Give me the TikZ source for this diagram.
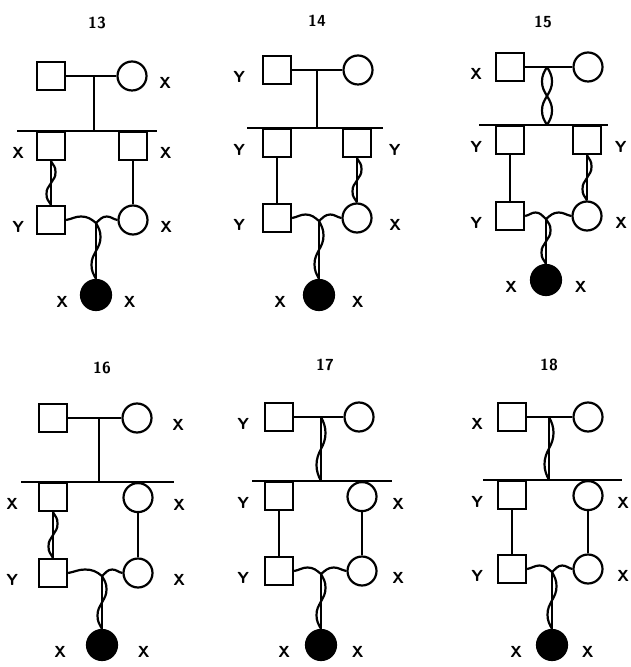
\documentclass[tikz,border=0pt]{standalone}
\usepackage{tikz}
\usetikzlibrary{positioning,calc}

\tikzset{
  male/.style={draw, rectangle, minimum size=14pt, inner sep=0pt},
  female/.style={draw, circle, minimum size=14.5pt, inner sep=0pt},
  affected/.style={draw, circle, fill=black, minimum size=15pt, inner sep=0pt},
  lbl/.style={font=\sffamily\bfseries\fontsize{8}{9}\selectfont, yshift=-3.5pt},
  tag/.style={font=\sffamily\bfseries\fontsize{8}{9}\selectfont},
}

% twisted strand between two points (amplitude, from, to)
\newcommand{\helix}[3][4.5]{%
  \draw (#2) .. controls +({0.6*(#1)},-5) and +(0,6) .. ($(#2)!.25!(#3)+(#1,0)$)
    .. controls +(0,-6) and +({0.6*(#1)},5) .. ($(#2)!.5!(#3)$)
    .. controls +({-0.6*(#1)},-5) and +(0,6) .. ($(#2)!.75!(#3)+({-1*(#1)},0)$)
    .. controls +(0,-6) and +({-0.6*(#1)},5) .. (#3);}
% wavy mating line through the descent point
\newcommand{\wavy}[3]{%
  \draw (#1) to[out=10,in=180] ($(#1)!.5!(#2)+(0,5)$) to[out=0,in=140] (#2)
    to[out=40,in=180] ($(#2)!.5!(#3)+(0,5)$) to[out=0,in=170] (#3);}

\begin{document}
\begin{tikzpicture}[x=0.5pt, y=0.5pt, line width=1.1pt]
  \useasboundingbox (0,-667) rectangle (630,0);

  % pedigree 13
  \begin{scope}[shift={(51,-76)}, label distance=2pt]
    \node[tag] (t13) at (46,53) {13};
    \node[male] (f13) at (0,0) {};
    \node[female, label={[lbl]right:X}] (m13) at (81,0) {};
    \coordinate (u13) at (43,0);
    \coordinate (s13) at (43,-55);
    \coordinate (sl13) at (-34,-55);
    \coordinate (sr13) at (106,-55);
    \node[male, anchor=north, label={[lbl]left:X}] (a13) at (0,-55) {};
    \node[male, anchor=north, label={[lbl]right:X}] (b13) at (82,-55) {};
    \node[male, label={[lbl]left:Y}] (c13) at (0,-144) {};
    \node[female, label={[lbl]right:X}] (e13) at (82,-144) {};
    \node[affected, label={[lbl]left:X}, label={[lbl]right:X}] (d13) at (45,-219) {};
    \coordinate (j13) at (45,-147);
    \draw (f13) -- (m13);
    \draw (sl13) -- (sr13);
    \draw (u13) -- (s13);
    \draw (a13) -- (c13); \helix{a13.south}{c13.north}
    \draw (b13) -- (e13);
    \wavy{c13.east}{j13}{e13.west}
    \draw (j13) -- (d13); \helix{j13}{d13.north}
  \end{scope}

  % pedigree 14
  \begin{scope}[shift={(277,-70)}, label distance=4.5pt]
    \node[tag] (t14) at (40,49) {14};
    \node[male, label={[lbl]left:Y}] (f14) at (0,0) {};
    \node[female] (m14) at (81,0) {};
    \coordinate (u14) at (40,0);
    \coordinate (s14) at (40,-58);
    \coordinate (sl14) at (-30,-58);
    \coordinate (sr14) at (106,-58);
    \node[male, anchor=north, label={[lbl]left:Y}] (a14) at (0,-58) {};
    \node[male, anchor=north, label={[lbl]right:Y}] (b14) at (80,-58) {};
    \node[male, label={[lbl]left:Y}] (c14) at (0,-148) {};
    \node[female, label={[lbl]right:X}] (e14) at (80,-148) {};
    \node[affected, label={[lbl]left:X}, label={[lbl]right:X}] (d14) at (42,-225) {};
    \coordinate (j14) at (42,-151);
    \draw (f14) -- (m14);
    \draw (sl14) -- (sr14);
    \draw (u14) -- (s14);
    \draw (a14) -- (c14);
    \draw (b14) -- (e14); \helix{b14.south}{e14.north}
    \wavy{c14.east}{j14}{e14.west}
    \draw (j14) -- (d14); \helix{j14}{d14.north}
  \end{scope}

  % pedigree 15
  \begin{scope}[shift={(510,-67)}, label distance=2.5pt]
    \node[tag] (t15) at (33,45) {15};
    \node[male, label={[lbl]left:X}] (f15) at (0,0) {};
    \node[female] (m15) at (78,0) {};
    \coordinate (u15) at (37,0);
    \coordinate (s15) at (37,-58);
    \coordinate (sl15) at (-31,-58);
    \coordinate (sr15) at (98,-58);
    \node[male, anchor=north, label={[lbl]left:Y}] (a15) at (0,-58) {};
    \node[male, anchor=north, label={[lbl]right:Y}] (b15) at (77,-58) {};
    \node[male, label={[lbl]left:Y}] (c15) at (0,-149) {};
    \node[female, label={[lbl]right:X}] (e15) at (77,-149) {};
    \node[affected, label={[lbl]left:X}, label={[lbl]right:X}] (d15) at (36,-213) {};
    \coordinate (j15) at (36,-152);
    \draw (f15) -- (m15);
    \draw (sl15) -- (sr15);
    \helix[5]{u15}{s15} \helix[-5]{u15}{s15}
    \draw (a15) -- (c15);
    \draw (b15) -- (e15); \helix{b15.south}{e15.north}
    \wavy{c15.east}{j15}{e15.west}
    \draw (j15) -- (d15); \helix{j15}{d15.north}
  \end{scope}

  % pedigree 16
  \begin{scope}[shift={(53,-418)}, label distance=6pt]
    \node[tag] (t16) at (49,50) {16};
    \node[male] (f16) at (0,0) {};
    \node[female, label={[lbl]right:X}] (m16) at (84,0) {};
    \coordinate (u16) at (46,0);
    \coordinate (s16) at (46,-64);
    \coordinate (sl16) at (-32,-64);
    \coordinate (sr16) at (121,-64);
    \node[male, anchor=north, label={[lbl]left:X}] (a16) at (0,-64) {};
    \node[female, anchor=north, label={[lbl]right:X}] (b16) at (85,-64) {};
    \node[male, label={[lbl]left:Y}] (c16) at (0,-155) {};
    \node[female, label={[lbl]right:X}] (e16) at (85,-155) {};
    \node[affected, label={[lbl]left:X}, label={[lbl]right:X}] (d16) at (49,-227) {};
    \coordinate (j16) at (49,-158);
    \draw (f16) -- (m16);
    \draw (sl16) -- (sr16);
    \draw (u16) -- (s16);
    \draw (a16) -- (c16); \helix{a16.south}{c16.north}
    \draw (b16) -- (e16);
    \wavy{c16.east}{j16}{e16.west}
    \draw (j16) -- (d16); \helix{j16}{d16.north}
  \end{scope}

  % pedigree 17
  \begin{scope}[shift={(279,-417)}, label distance=3.5pt]
    \node[tag] (t17) at (46,52) {17};
    \node[male, label={[lbl]left:Y}] (f17) at (0,0) {};
    \node[female] (m17) at (80,0) {};
    \coordinate (u17) at (42,0);
    \coordinate (s17) at (42,-64);
    \coordinate (sl17) at (-27,-64);
    \coordinate (sr17) at (113,-64);
    \node[male, anchor=north, label={[lbl]left:Y}] (a17) at (0,-64) {};
    \node[female, anchor=north, label={[lbl]right:X}] (b17) at (83,-64) {};
    \node[male, label={[lbl]left:Y}] (c17) at (0,-154) {};
    \node[female, label={[lbl]right:X}] (e17) at (83,-154) {};
    \node[affected, label={[lbl]left:X}, label={[lbl]right:X}] (d17) at (42,-228) {};
    \coordinate (j17) at (42,-157);
    \draw (f17) -- (m17);
    \draw (sl17) -- (sr17);
    \draw (u17) -- (s17); \helix{u17}{s17}
    \draw (a17) -- (c17);
    \draw (b17) -- (e17);
    \wavy{c17.east}{j17}{e17.west}
    \draw (j17) -- (d17); \helix{j17}{d17.north}
  \end{scope}

  % pedigree 18
  \begin{scope}[shift={(512,-417)}, label distance=3pt]
    \node[tag] (t18) at (37,52) {18};
    \node[male, label={[lbl]left:X}] (f18) at (0,0) {};
    \node[female] (m18) at (76,0) {};
    \coordinate (u18) at (37,0);
    \coordinate (s18) at (37,-63);
    \coordinate (sl18) at (-29,-63);
    \coordinate (sr18) at (110,-63);
    \node[male, anchor=north, label={[lbl]left:Y}] (a18) at (0,-63) {};
    \node[female, anchor=north, label={[lbl]right:X}] (b18) at (76,-63) {};
    \node[male, label={[lbl]left:Y}] (c18) at (0,-152) {};
    \node[female, label={[lbl]right:X}] (e18) at (76,-152) {};
    \node[affected, label={[lbl]left:X}, label={[lbl]right:X}] (d18) at (40,-228) {};
    \coordinate (j18) at (40,-155);
    \draw (f18) -- (m18);
    \draw (sl18) -- (sr18);
    \draw (u18) -- (s18); \helix{u18}{s18}
    \draw (a18) -- (c18);
    \draw (b18) -- (e18);
    \wavy{c18.east}{j18}{e18.west}
    \draw (j18) -- (d18); \helix{j18}{d18.north}
  \end{scope}
\end{tikzpicture}
\end{document}
